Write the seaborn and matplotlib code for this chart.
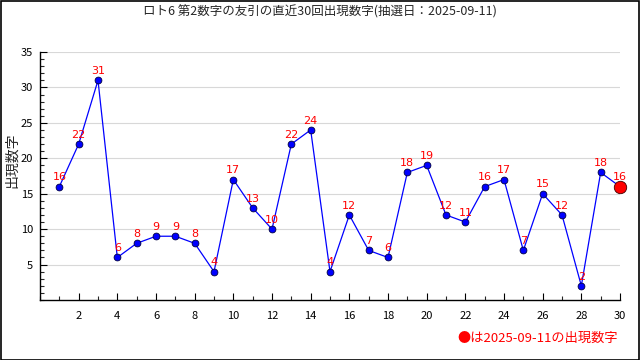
import matplotlib
matplotlib.use("Agg")
import matplotlib.pyplot as plt
import seaborn as sns
import pandas as pd
from matplotlib.ticker import MultipleLocator

draws = list(range(1, 31))
values = [16, 22, 31, 6, 8, 9, 9, 8, 4, 17, 13, 10, 22, 24, 4, 12, 7, 6, 18, 19,
          12, 11, 16, 17, 7, 15, 12, 2, 18, 16]
title = "ロト6 第2数字の友引の直近30回出現数字(抽選日：2025-09-11)"
ylabel = "出現数字"
note = "●は2025-09-11の出現数字"
xticks = list(range(2, 31, 2))
yticks = [5, 10, 15, 20, 25, 30, 35]

sns.set_theme(style="white")
plt.rcParams['font.family'] = ['Noto Sans CJK JP', 'DejaVu Sans']

df = pd.DataFrame({"draw": draws, "value": values})

fig = plt.figure(figsize=(6.4, 3.6), dpi=100)
ax = fig.add_axes([40/640, 1 - 300/360, 580/640, 248/360])

sns.lineplot(data=df, x="draw", y="value", color="blue", linewidth=0.9, ax=ax)
sns.scatterplot(data=df.iloc[:-1], x="draw", y="value", color="blue", edgecolor="#000040",
                s=24, linewidth=0.6, ax=ax, zorder=3, clip_on=False)
sns.scatterplot(data=df.iloc[-1:], x="draw", y="value", color="red", edgecolor="#400000",
                s=80, linewidth=0.6, ax=ax, zorder=4, clip_on=False)
for x, v in zip(draws, values):
    ax.text(x, v + 0.6, str(v), color="red", ha="center", va="bottom", fontsize=8,
            family=['DejaVu Sans'], clip_on=False)

ax.set_xlim(0, 30)
ax.set_ylim(0, 35)
ax.set_xticks(xticks)
ax.xaxis.set_minor_locator(MultipleLocator(1))
ax.set_yticks(yticks)
ax.yaxis.set_minor_locator(MultipleLocator(1))
ax.grid(axis="y", which="major", color="#d8d8d8", linewidth=0.8)
ax.set_axisbelow(True)
for s in ["top", "right"]:
    ax.spines[s].set_visible(False)
for s in ["left", "bottom"]:
    ax.spines[s].set_color("black")
    ax.spines[s].set_linewidth(1)
ax.tick_params(axis="both", which="major", direction="in", length=5, width=0.8,
               labelsize=8, colors="black", left=True, bottom=True)
ax.tick_params(axis="x", which="major", pad=8)
ax.tick_params(axis="y", which="major", pad=5)
ax.tick_params(axis="both", which="minor", direction="in", length=3, width=0.8,
               left=True, bottom=True)
ax.set_xlabel("")
ax.set_ylabel("")

fig.text(12/640, 1 - 160/360, ylabel, ha="center", va="center", rotation=90, fontsize=10)
fig.text(0.5, 1 - 12/360, title, ha="center", va="center", fontsize=9)
fig.text(618/640, 1 - 338/360, note, ha="right", va="center", color="red", fontsize=9.5)

border = plt.Rectangle((0.5/640, 0.5/360), 1 - 1.5/640, 1 - 1.5/360, transform=fig.transFigure,
                       fill=False, edgecolor="black", linewidth=1.2)
fig.patches.append(border)

fig.savefig("out.png", dpi=100)
